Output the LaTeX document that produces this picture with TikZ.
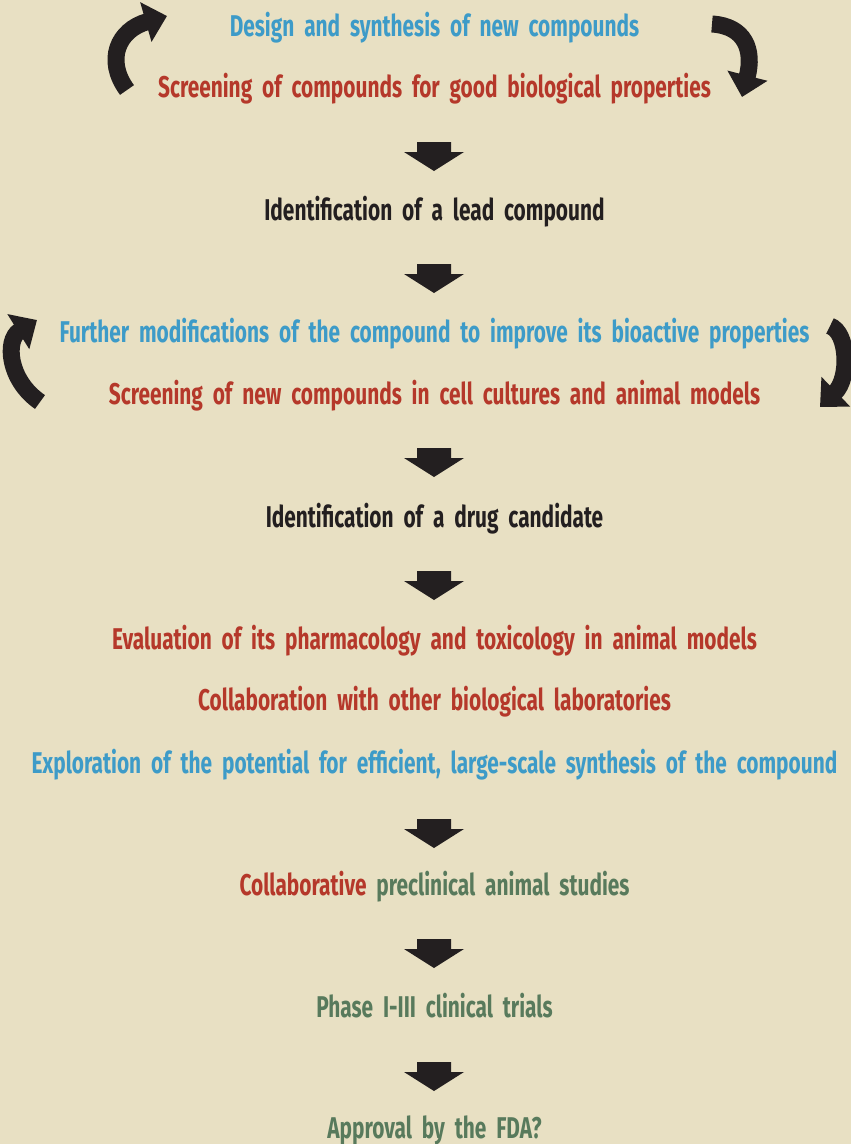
\documentclass[tikz,border=0pt]{standalone}
\usepackage{fontspec}
\setmainfont{Fira Sans}[FakeStretch=0.695, WordSpace=2]
\usetikzlibrary{arrows.meta}
\definecolor{bgc}{HTML}{E8E0C3}
\definecolor{cblue}{HTML}{3D9BC8}
\definecolor{cred}{HTML}{B5382A}
\definecolor{cgreen}{HTML}{587A5C}
\definecolor{cdark}{HTML}{231F20}
\tikzset{
  txt/.style={anchor=base, inner sep=0pt, font=\fontsize{30}{36}\selectfont\bfseries},
  curvearrow/.style={draw=cdark, line width=17pt, -{Triangle[length=22pt,width=40pt]}},
  downarrow/.pic={\fill[cdark] (-17,0) -- (17,0) -- (17,10) -- (30,10) -- (0,29) -- (-30,10) -- (-17,10) -- cycle;}
}
\begin{document}
\begin{tikzpicture}[x=1pt,y=-1pt]
\fill[bgc] (0,0) rectangle (851,1144);
\useasboundingbox (0,0) rectangle (851,1144);

\node[txt, text=cblue] (t1) at (434.5,36) {Design and synthesis of new compounds};
\node[txt, text=cred] (t2) at (434.5,97) {Screening of compounds for good biological properties};
\node[txt, text=cdark] (t3) at (434.5,220) {Identification of a lead compound};
\node[txt, text=cblue] (t4) at (434.5,342) {Further modifications of the compound to improve its bioactive properties};
\node[txt, text=cred] (t5) at (434.5,404) {Screening of new compounds in cell cultures and animal models};
\node[txt, text=cdark] (t6) at (434.5,527) {Identification of a drug candidate};
\node[txt, text=cred] (t7) at (434.5,649) {Evaluation of its pharmacology and toxicology in animal models};
\node[txt, text=cred] (t8) at (434.5,710) {Collaboration with other biological laboratories};
\node[txt, text=cblue] (t9) at (434.5,773) {Exploration of the potential for efficient, large-scale synthesis of the compound};
\node[txt, text=cgreen] (t10) at (434.5,895) {\textcolor{cred}{Collaborative} preclinical animal studies};
\node[txt, text=cgreen] (t11) at (434.5,1017) {Phase I-III clinical trials};
\node[txt, text=cgreen] (t12) at (434.5,1138) {Approval by the FDA?};

\coordinate (a1) at (434,142);
\coordinate (a2) at (434,264);
\coordinate (a3) at (434,448);
\coordinate (a4) at (434,571);
\coordinate (a5) at (434,819);
\coordinate (a6) at (434,939);
\coordinate (a7) at (434,1062);
\foreach \a in {a1,a2,a3,a4,a5,a6,a7} \pic at (\a) {downarrow};

\coordinate (c1s) at (127,90);
\coordinate (c1e) at (167,16);
\draw[curvearrow] (c1s) .. controls (105,60) and (118,30) .. (c1e);
\coordinate (c2s) at (712,24);
\coordinate (c2e) at (742,97);
\draw[curvearrow] (c2s) .. controls (745,26) and (754,50) .. (c2e);
\coordinate (c3s) at (40,402);
\coordinate (c3e) at (37,320);
\draw[curvearrow] (c3s) .. controls (8,380) and (5,340) .. (c3e);
\coordinate (c4s) at (830,326);
\coordinate (c4e) at (820,407);
\draw[curvearrow] (c4s) .. controls (848,332) and (850,378) .. (c4e);
\end{tikzpicture}
\end{document}
